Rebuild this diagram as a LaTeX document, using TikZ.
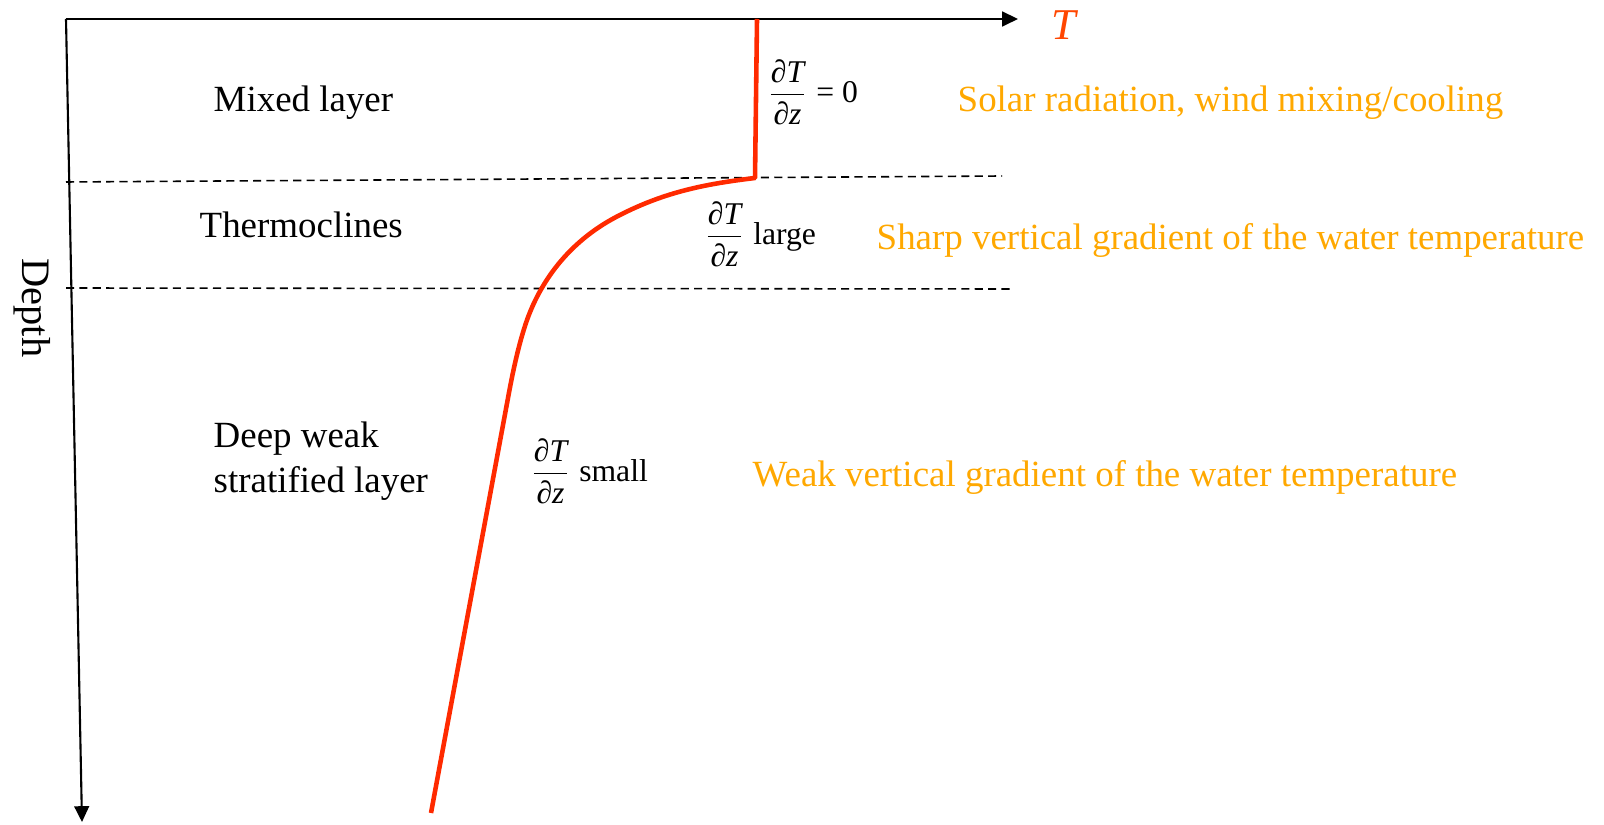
\documentclass[tikz,border=0pt]{standalone}
\usepackage{amsmath}
\usepackage{fontspec}
\setmainfont{Liberation Serif}
\usetikzlibrary{arrows.meta, positioning}
\definecolor{warmorange}{RGB}{255,168,0}
\definecolor{profilered}{RGB}{255,42,0}
\definecolor{axisred}{RGB}{255,70,0}

\begin{document}
\begin{tikzpicture}[x=0.01cm, y=-0.01cm, >={Triangle[length=4.5pt, width=4.2pt]},
    axis/.style={line width=0.6pt, ->},
    bound/.style={dash pattern=on 2.3pt off 1.5pt, line width=0.45pt},
    profile/.style={profilered, line width=1.3pt, line join=round},
    layer/.style={font=\fontsize{10.5}{12.8}\selectfont, inner sep=0pt},
    grad/.style={font=\fontsize{9}{11}\selectfont, inner sep=0pt},
    process/.style={font=\fontsize{10.5}{12.8}\selectfont, text=warmorange, inner sep=0pt}]
    \useasboundingbox (0,0) rectangle (1604,825);

    % Axes
    \coordinate (origin) at (66,19);
    \coordinate (Tend) at (1018,19);
    \coordinate (zend) at (82,822);
    \draw[axis] (origin) -- (Tend);
    \draw[axis] (origin) -- (zend);
    \node[inner sep=0pt, font=\fontsize{12.5}{14}\selectfont\itshape, text=axisred] (Tlabel) at (1064,25) {T};
    \node[inner sep=0pt, font=\fontsize{11.5}{13}\selectfont, rotate=-90] (depth) at (32,308) {Depth};

    % Layer boundaries
    \coordinate (mixL) at (66,182);
    \coordinate (mixR) at (1002,176);
    \coordinate (thermL) at (66,288);
    \coordinate (thermR) at (1010,289);
    \draw[bound] (mixL) -- (mixR);
    \draw[bound] (thermL) -- (thermR);

    % Temperature profile
    \draw[profile] (757,19) -- (755,178)
        .. controls (705,184) and (665,192) .. (620,215)
        .. controls (572,239) and (542,278) .. (527,320)
        .. controls (520,340) and (514,365) .. (508,398) -- (431,813);

    % Layer names
    \node[layer, anchor=base west] (mixed) at (213,112) {Mixed layer};
    \node[layer, anchor=base west] (thermo) at (199,238) {Thermoclines};
    \node[layer, anchor=north west, align=left] (deep) at (213,421) {Deep weak\\stratified layer};

    % Gradients
    \node[grad, anchor=west] (gzero) at (766,92) {$\dfrac{\textit{∂T}}{\textit{∂z}}$ = 0};
    \node[grad, anchor=west] (glarge) at (703,234) {$\dfrac{\textit{∂T}}{\textit{∂z}}$ large};
    \node[grad, anchor=west] (gsmall) at (529,471) {$\dfrac{\textit{∂T}}{\textit{∂z}}$ small};

    % Processes
    \node[process, anchor=base west] (solar) at (957,112) {Solar radiation, wind mixing/cooling};
    \node[process, anchor=base west] (sharp) at (876,250) {Sharp vertical gradient of the water temperature};
    \node[process, anchor=base west] (weak) at (752,486) {Weak vertical gradient of the water temperature};
\end{tikzpicture}
\end{document}
